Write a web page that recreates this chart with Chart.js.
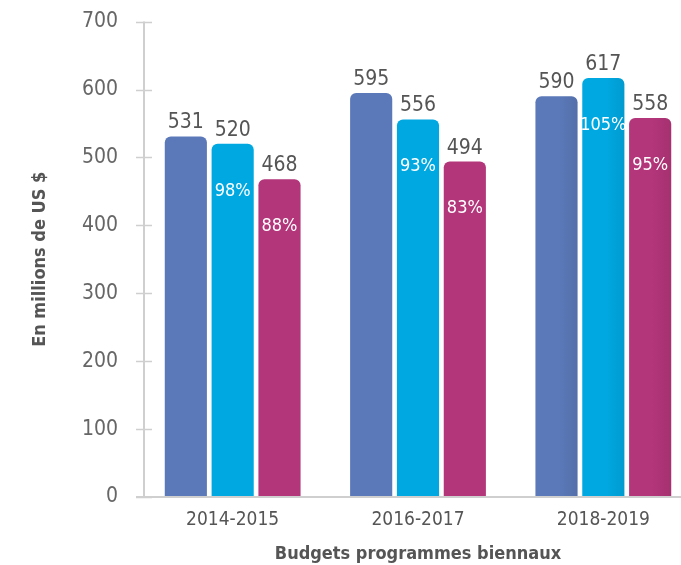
<!DOCTYPE html>
<html>
<head>
<meta charset="utf-8">
<script src="https://cdn.jsdelivr.net/npm/chart.js@4.4.1/dist/chart.umd.min.js"></script>
<style>
  html, body { margin: 0; padding: 0; background: #fff; overflow: hidden; }
  #wrap { width: 706px; height: 578px; margin-top: -13px; position: relative; }
</style>
</head>
<body>
<div id="wrap"><canvas id="budgets"></canvas></div>
<script>
const categories = ['2014-2015', '2016-2017', '2018-2019'];
const budgetValues = [531, 595, 590];
const spentValues = [520, 556, 617];
const otherValues = [468, 494, 558];
const spentPct = ['98%', '93%', '105%'];
const otherPct = ['88%', '83%', '95%'];
const yTicks = [0, 100, 200, 300, 400, 500, 600, 700];

const FONT = "'Liberation Sans Narrow', 'DejaVu Sans Condensed', 'Roboto', sans-serif";
const AXIS_GREY = '#cfcfcf';

function shade(hex, f) {
  const n = parseInt(hex.slice(1), 16);
  const c = [n >> 16, (n >> 8) & 255, n & 255].map(v => Math.round(v * f));
  return 'rgb(' + c.join(',') + ')';
}

// soft left-to-right shading on every bar
const barShading = {
  id: 'barShading',
  beforeDatasetsDraw(chart) {
    const ctx = chart.ctx;
    chart.data.datasets.forEach((ds, di) => {
      chart.getDatasetMeta(di).data.forEach(bar => {
        const g = ctx.createLinearGradient(bar.x - bar.width / 2, 0, bar.x + bar.width / 2, 0);
        g.addColorStop(0, ds.baseColor);
        g.addColorStop(0.55, ds.baseColor);
        g.addColorStop(1, shade(ds.baseColor, 0.92));
        bar.options.backgroundColor = g;
      });
    });
  }
};

// value above every bar, percentage inside the two right-hand bars
const barLabels = {
  id: 'barLabels',
  afterDatasetsDraw(chart) {
    const ctx = chart.ctx;
    ctx.save();
    ctx.textAlign = 'center';
    chart.data.datasets.forEach((ds, di) => {
      chart.getDatasetMeta(di).data.forEach((bar, i) => {
        ctx.font = '21px ' + FONT;
        ctx.fillStyle = '#555';
        ctx.textBaseline = 'alphabetic';
        ctx.fillText(ds.data[i], bar.x, bar.y - 8);
        if (ds.pct) {
          ctx.font = '18px ' + FONT;
          ctx.fillStyle = '#fff';
          ctx.textBaseline = 'middle';
          ctx.fillText(ds.pct[i], bar.x, bar.y + 47);
        }
      });
    });
    ctx.restore();
  }
};

// y axis line with ticks crossing it, x axis reaching back under them
const axisMarks = {
  id: 'axisMarks',
  afterDraw(chart) {
    const ctx = chart.ctx;
    const y = chart.scales.y;
    const ax = chart.chartArea.left + 4;
    ctx.save();
    ctx.strokeStyle = AXIS_GREY;
    ctx.lineWidth = 2;
    ctx.beginPath();
    ctx.moveTo(ax, y.getPixelForValue(700));
    ctx.lineTo(ax, y.getPixelForValue(0));
    ctx.stroke();
    ctx.lineWidth = 1.5;
    yTicks.forEach(v => {
      const py = Math.round(y.getPixelForValue(v)) + 0.5;
      ctx.beginPath();
      ctx.moveTo(ax - 8, py);
      ctx.lineTo(ax + 8, py);
      ctx.stroke();
    });
    const py0 = y.getPixelForValue(0);
    ctx.lineWidth = 2;
    ctx.beginPath();
    ctx.moveTo(ax - 8, py0);
    ctx.lineTo(chart.width, py0);
    ctx.stroke();
    ctx.restore();
  }
};

new Chart(document.getElementById('budgets'), {
  type: 'bar',
  data: {
    labels: categories,
    datasets: [
      { data: budgetValues, baseColor: '#5b79b9', backgroundColor: '#5b79b9' },
      { data: spentValues, baseColor: '#00a8e2', backgroundColor: '#00a8e2', pct: spentPct },
      { data: otherValues, baseColor: '#b3357a', backgroundColor: '#b3357a', pct: otherPct }
    ]
  },
  options: {
    responsive: true,
    maintainAspectRatio: false,
    animation: false,
    layout: { padding: { left: 0, right: 10, top: 0, bottom: 0 } },
    datasets: {
      bar: {
        categoryPercentage: 0.758,
        barPercentage: 0.9,
        borderRadius: { topLeft: 6, topRight: 6 },
        borderSkipped: 'bottom'
      }
    },
    plugins: {
      legend: { display: false },
      tooltip: { enabled: false }
    },
    scales: {
      x: {
        grid: { display: false, drawTicks: false },
        border: { display: false },
        ticks: { color: '#555', font: { family: FONT, size: 19 }, padding: 12 },
        title: {
          display: true,
          text: 'Budgets programmes biennaux',
          color: '#555',
          font: { family: FONT, size: 18, weight: 'bold' },
          padding: { top: 16, bottom: 0 }
        },
        afterFit(scale) { scale.height = 68; }
      },
      y: {
        min: 0,
        max: 700,
        afterBuildTicks(scale) { scale.ticks = yTicks.map(v => ({ value: v })); },
        grid: { display: false, drawTicks: false },
        border: { display: false },
        ticks: { color: '#666', font: { family: FONT, size: 21 }, padding: 22 },
        title: {
          display: true,
          text: 'En millions de US $',
          color: '#555',
          font: { family: FONT, size: 18, weight: 'bold' },
          padding: { top: 30 }
        },
        afterFit(scale) { scale.width = 140; }
      }
    }
  },
  plugins: [barShading, barLabels, axisMarks]
});
</script>
</body>
</html>
